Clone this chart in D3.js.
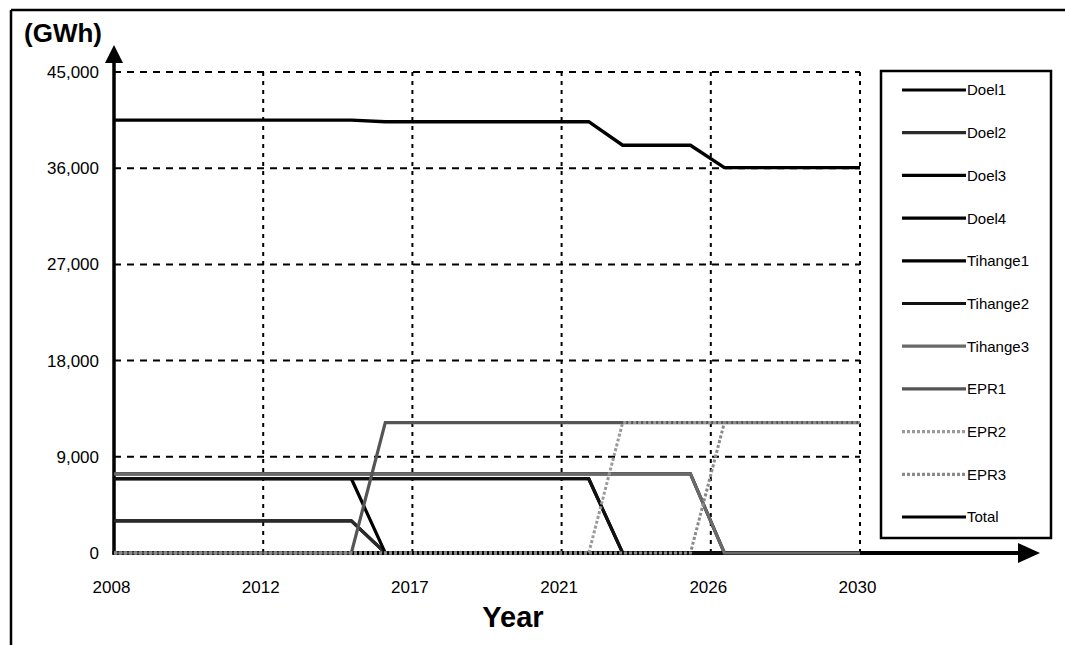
<!DOCTYPE html>
<html>
<head>
<meta charset="utf-8">
<script src="https://cdn.jsdelivr.net/npm/d3@7"></script>
<style>
  html, body { margin: 0; padding: 0; background: #fff; }
  svg { display: block; }
  text { font-family: "Liberation Sans", Arial, sans-serif; fill: #000; }
</style>
</head>
<body>
<svg id="chart" width="1065" height="645"></svg>
<script>
// ---- data ----
const years = [2008,2009,2010,2011,2012,2013,2014,2015,2016,2017,2018,2019,2020,2021,2022,2023,2024,2025,2026,2027,2028,2029,2030];

const doel1    = [3000,3000,3000,3000,3000,3000,3000,3000,0,0,0,0,0,0,0,0,0,0,0,0,0,0,0];
const doel2    = [3000,3000,3000,3000,3000,3000,3000,3000,0,0,0,0,0,0,0,0,0,0,0,0,0,0,0];
const doel3    = [6950,6950,6950,6950,6950,6950,6950,6950,6950,6950,6950,6950,6950,6950,6950,0,0,0,0,0,0,0,0];
const doel4    = [7400,7400,7400,7400,7400,7400,7400,7400,7400,7400,7400,7400,7400,7400,7400,7400,7400,7400,0,0,0,0,0];
const tihange1 = [6950,6950,6950,6950,6950,6950,6950,6950,0,0,0,0,0,0,0,0,0,0,0,0,0,0,0];
const tihange2 = [6950,6950,6950,6950,6950,6950,6950,6950,6950,6950,6950,6950,6950,6950,6950,0,0,0,0,0,0,0,0];
const tihange3 = [7400,7400,7400,7400,7400,7400,7400,7400,7400,7400,7400,7400,7400,7400,7400,7400,7400,7400,0,0,0,0,0];
const epr1     = [0,0,0,0,0,0,0,0,12200,12200,12200,12200,12200,12200,12200,12200,12200,12200,12200,12200,12200,12200,12200];
const epr2     = [0,0,0,0,0,0,0,0,0,0,0,0,0,0,0,12200,12200,12200,12200,12200,12200,12200,12200];
const epr3     = [0,0,0,0,0,0,0,0,0,0,0,0,0,0,0,0,0,0,12200,12200,12200,12200,12200];
const total    = [40500,40500,40500,40500,40500,40500,40500,40500,40350,40350,40350,40350,40350,40350,40350,38150,38150,38150,36050,36050,36050,36050,36050];

const seriesNames = ["Doel1","Doel2","Doel3","Doel4","Tihange1","Tihange2","Tihange3","EPR1","EPR2","EPR3","Total"];
const seriesValues = [doel1, doel2, doel3, doel4, tihange1, tihange2, tihange3, epr1, epr2, epr3, total];

const xTickValues = [2008, 2012.4, 2016.8, 2021.2, 2025.6, 2030];
const xTickLabels = ["2008","2012","2017","2021","2026","2030"];
const yTickValues = [0, 9000, 18000, 27000, 36000, 45000];

// ---- styles ----
const styles = {
  Doel1:    {color: "#000", width: 3.2, dash: null},
  Doel2:    {color: "#2a2a2a", width: 3.2, dash: null},
  Doel3:    {color: "#000", width: 3.2, dash: null},
  Doel4:    {color: "#000", width: 3.2, dash: null},
  Tihange1: {color: "#000", width: 3.2, dash: null},
  Tihange2: {color: "#111", width: 3.2, dash: null},
  Tihange3: {color: "#6a6a6a", width: 3.2, dash: null},
  EPR1:     {color: "#555", width: 3.2, dash: null},
  EPR2:     {color: "#9a9a9a", width: 3, dash: "3,2"},
  EPR3:     {color: "#8a8a8a", width: 3, dash: "3,2"},
  Total:    {color: "#000", width: 3.4, dash: null}
};

const svg = d3.select("#chart");

// outer frame
svg.append("line").attr("x1", 11).attr("y1", 10).attr("x2", 1065).attr("y2", 10)
  .attr("stroke", "#000").attr("stroke-width", 2.5);
svg.append("line").attr("x1", 11).attr("y1", 10).attr("x2", 11).attr("y2", 645)
  .attr("stroke", "#000").attr("stroke-width", 2.5);

const x = d3.scaleLinear().domain([2008, 2030]).range([114, 860]);
const y = d3.scaleLinear().domain([0, 45000]).range([553, 72]);
const x0 = x(2008);

// horizontal gridlines
svg.append("g").selectAll("line").data(yTickValues.filter(d => d > 0)).join("line")
  .attr("x1", x0).attr("x2", x(2030))
  .attr("y1", d => y(d)).attr("y2", d => y(d))
  .attr("stroke", "#000").attr("stroke-width", 2)
  .attr("stroke-dasharray", "7,6");

// vertical gridlines
svg.append("g").selectAll("line").data(xTickValues.filter(d => d > 2008)).join("line")
  .attr("x1", d => x(d)).attr("x2", d => x(d))
  .attr("y1", y(45000)).attr("y2", y(0))
  .attr("stroke", "#000").attr("stroke-width", 2)
  .attr("stroke-dasharray", "4,5");

// y axis labels
const yAxis = d3.axisLeft(y).tickValues(yTickValues).tickFormat(d3.format(",")).tickSize(0).tickPadding(15);
const gy = svg.append("g").attr("transform", `translate(${x0},0)`).call(yAxis);
gy.select(".domain").remove();
gy.selectAll("text").style("font-size", "17px").style("font-family", "'Liberation Sans', Arial, sans-serif");

// x axis labels
const xAxis = d3.axisBottom(x).tickValues(xTickValues).tickFormat((d, i) => xTickLabels[i]).tickSize(0).tickPadding(28);
const gx = svg.append("g").attr("transform", `translate(0,${y(0)})`).call(xAxis);
gx.select(".domain").remove();
gx.selectAll("text").attr("dx", -3).style("font-size", "17px").style("font-family", "'Liberation Sans', Arial, sans-serif");

// axes with arrows
svg.append("line").attr("x1", x0).attr("y1", y(0) + 1.5).attr("x2", x0).attr("y2", 60)
  .attr("stroke", "#000").attr("stroke-width", 3.5);
svg.append("path").attr("d", `M${x0},45 L${x0 - 9},63 L${x0 + 9},63 Z`).attr("fill", "#000");
svg.append("line").attr("x1", x0 - 1.5).attr("y1", y(0)).attr("x2", 1025).attr("y2", y(0))
  .attr("stroke", "#000").attr("stroke-width", 3.8);
svg.append("path").attr("d", `M1040,${y(0)} L1018,${y(0) - 10} L1018,${y(0) + 10} Z`).attr("fill", "#000");

// data lines
const line = d3.line().x((d, i) => x(years[i])).y(d => y(d));
const gLines = svg.append("g");
seriesNames.forEach((name, k) => {
  const s = styles[name];
  gLines.append("path")
    .datum(seriesValues[k])
    .attr("d", line)
    .attr("fill", "none")
    .attr("stroke", s.color)
    .attr("stroke-width", s.width)
    .attr("stroke-dasharray", s.dash)
    .attr("stroke-linejoin", "miter");
});

// axis titles
svg.append("text").attr("x", 24).attr("y", 42)
  .style("font-size", "26px").style("font-weight", "bold").text("(GWh)");
svg.append("text").attr("x", 513).attr("y", 627).attr("text-anchor", "middle")
  .style("font-size", "29px").style("font-weight", "bold").text("Year");

// legend
const legend = svg.append("g");
legend.append("rect").attr("x", 881).attr("y", 71).attr("width", 170).attr("height", 467)
  .attr("fill", "#fff").attr("stroke", "#000").attr("stroke-width", 2.5);
const ly = d3.scalePoint().domain(seriesNames).range([90, 517]);
seriesNames.forEach(name => {
  const s = styles[name];
  legend.append("line").attr("x1", 902).attr("x2", 966)
    .attr("y1", ly(name)).attr("y2", ly(name))
    .attr("stroke", s.color).attr("stroke-width", 3.2).attr("stroke-dasharray", s.dash);
  legend.append("text").attr("x", 967).attr("y", ly(name)).attr("dy", "0.36em")
    .style("font-size", "15px").text(name);
});
</script>
</body>
</html>
